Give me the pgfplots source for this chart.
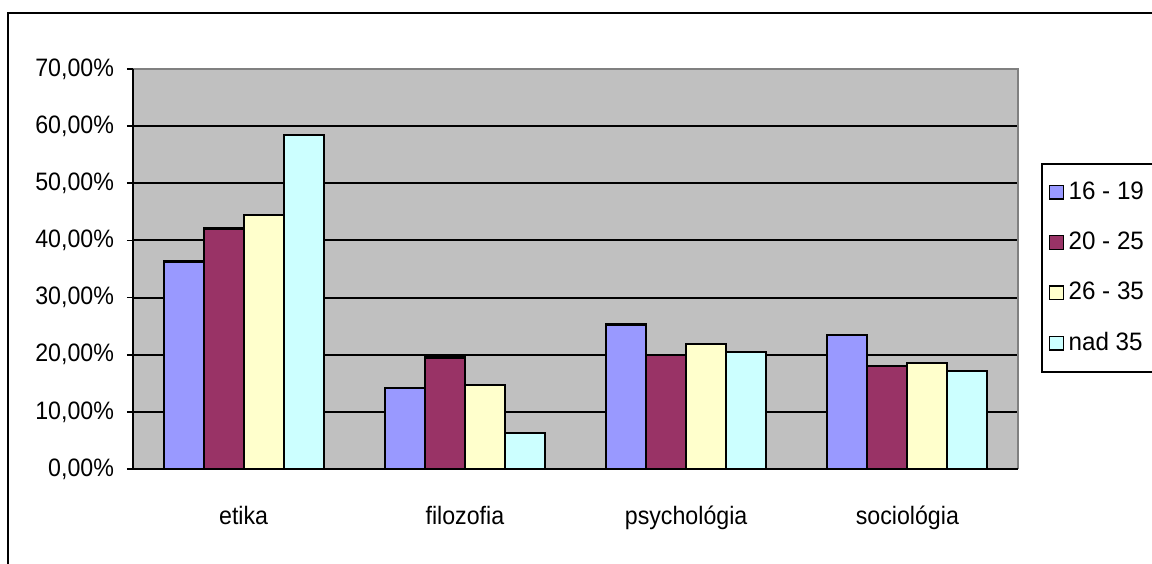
\documentclass[border=0pt]{standalone}
\usepackage{fontspec}
\setmainfont{Liberation Sans}[FakeStretch=0.92]
\newfontfamily\legfont{Liberation Sans}[FakeStretch=0.96]
\usepackage{pgfplots}
\pgfplotsset{compat=1.18}
\definecolor{cA}{HTML}{9999FF}
\definecolor{cB}{HTML}{993366}
\definecolor{cC}{HTML}{FFFFCC}
\definecolor{cD}{HTML}{CCFFFF}
\definecolor{plotgray}{HTML}{C0C0C0}
\definecolor{edgegray}{HTML}{808080}
\begin{document}
\begin{tikzpicture}[x=1pt,y=1pt]
\useasboundingbox (0,0) rectangle (576,281.5);
\clip (0,0) rectangle (576,281.5);
\draw[line width=1pt] (4,-10) rectangle (590,275);
\begin{axis}[
  at={(66.5pt,47pt)}, anchor=south west,
  scale only axis, width=442.5pt, height=200pt,
  xmin=-0.5, xmax=3.5, ymin=0, ymax=70,
  ybar=0pt, bar width=20pt,
  clip=false,
  font=\fontsize{12.6pt}{15pt}\selectfont,
  axis background/.style={fill=plotgray},
  axis line style={draw=none},
  ymajorgrids, grid style={black, line width=1pt},
  ytick={0,10,...,70},
  yticklabels={{0,00\%},{10,00\%},{20,00\%},{30,00\%},{40,00\%},{50,00\%},{60,00\%},{70,00\%}},
  xtick={0,1,2,3},
  xticklabels={etika,filozofia,psychológia,sociológia},
  minor xtick={-0.5,0.5,1.5,2.5,3.5},
  xtick pos=bottom, ytick pos=left,
  tick align=outside,
  major tick length=3pt, minor tick length=4pt,
  xtick style={draw=none},
  ytick style={black, line width=0.8pt},
  minor x tick style={black, line width=0.8pt},
  xticklabel style={yshift=-12pt},
  yticklabel style={xshift=-3pt},
  every axis plot/.append style={draw=black, line width=1.1pt},
  legend style={at={(1.026,0.765)}, anchor=north west, draw=black, line width=1pt,
    font=\legfont\fontsize{12.6pt}{15pt}\selectfont, row sep=10.8pt, inner xsep=3.5pt, inner ysep=7pt,
    /tikz/every odd column/.append style={column sep=0.3pt},
    /tikz/every even column/.append style={column sep=6pt}},
  legend cell align=left,
  legend image code/.code={\draw[#1, line width=0.7pt] (0pt,-3.4pt) rectangle (6.8pt,3.4pt);},
]
\addplot[fill=cA] coordinates {(0,36.3) (1,14.2) (2,25.3) (3,23.4)};
\addplot[fill=cB] coordinates {(0,42.1) (1,19.5) (2,19.95) (3,18.0)};
\addplot[fill=cC] coordinates {(0,44.45) (1,14.7) (2,21.9) (3,18.6)};
\addplot[fill=cD] coordinates {(0,58.45) (1,6.35) (2,20.5) (3,17.15)};
\legend{16 - 19, 20 - 25, 26 - 35, nad 35}
\draw[edgegray, line width=1pt] (rel axis cs:0,1) -- (rel axis cs:1,1) -- (rel axis cs:1,0);
\draw[black, line width=1pt] (rel axis cs:0,1) -- (rel axis cs:0,0) -- (rel axis cs:1,0);
\end{axis}
\end{tikzpicture}
\end{document}
